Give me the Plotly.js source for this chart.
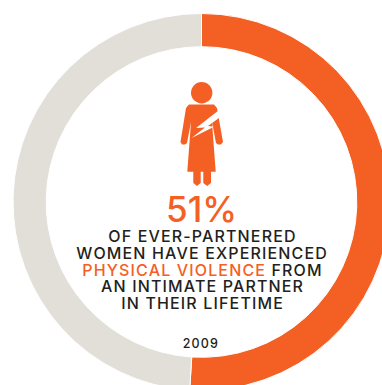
<!DOCTYPE html>
<html>
<head>
<meta charset="utf-8">
<script src="https://cdn.plot.ly/plotly-3.0.1.min.js"></script>
<style>
html,body{margin:0;padding:0;background:#fff;overflow:hidden;width:382px;height:385px}
.annotation text{letter-spacing:1.15px}
.annotation[data-index="5"] text{letter-spacing:0}
</style>
</head>
<body>
<div id="chart"></div>
<script>
const categories = ['Experienced physical violence', 'Did not'];
const shares = [51, 49];
const orange = '#F46024';
const sliceColors = [orange, '#E2DFD9'];
const headline = '51%';
const captionLines = [
  'OF EVER-PARTNERED',
  'WOMEN HAVE EXPERIENCED',
  '<span style="color:' + orange + '">PHYSICAL VIOLENCE</span> FROM',
  'AN INTIMATE PARTNER',
  'IN THEIR LIFETIME'
];
const captionY = [236, 252.7, 269.5, 286, 303];
const yearLabel = '2009';

// The canvas is larger than the window so the ring bleeds off the right and bottom.
const W = 402, H = 404;
const fx = x => (x / W).toFixed(5);
const fy = y => (1 - y / H).toFixed(5);
// Converts a list of pixel points to a closed path in paper coordinates.
const poly = pts => 'M' + pts.map(p => fx(p[0]) + ',' + fy(p[1])).join(' L') + ' Z';
const shape = (pts, color) => ({type: 'path', xref: 'paper', yref: 'paper', path: poly(pts), fillcolor: color, line: {color: color, width: 0}, layer: 'above'});
const disc = (cx, cy, r) => ({type: 'circle', xref: 'paper', yref: 'paper', x0: fx(cx - r), x1: fx(cx + r), y0: fy(cy + r), y1: fy(cy - r), fillcolor: orange, line: {width: 0}});

// Pictogram of a woman with a lightning bolt across the torso.
const figure = [
  disc(201.7, 92.7, 10.7),
  shape([[186,108],[189,104.5],[214,104.5],[217,108],[223,142],[221,144.5],[218,144.5],[216,143],[212,122],[215.7,171.7],[187.3,171.7],[191,122],[187,143],[185,144.5],[182,144.5],[180.5,142]], orange),
  shape([[193.3,171],[200.7,171],[200.7,183],[197,186],[193.3,183]], orange),
  shape([[203.3,171],[211,171],[211,183],[207.2,186],[203.3,183]], orange),
  shape([[218.5,110.5],[196,128],[205,127.5],[191.5,138],[214,126.8],[208,126],[221,116.5]], '#ffffff')
];

const centred = {xref: 'paper', yref: 'paper', showarrow: false, xanchor: 'center', yanchor: 'middle'};
const annotations = captionLines.map((t, i) => ({
  ...centred, text: t, x: fx(202.5), y: fy(captionY[i]),
  font: {family: 'Inter, sans-serif', size: 16, color: '#231F20', weight: 500}
}));
annotations.push({...centred, text: headline, x: fx(201.5), y: fy(209),
  font: {family: 'Inter, sans-serif', size: 35, color: orange, weight: 500}});
annotations.push({...centred, text: yearLabel, x: fx(201.5), y: fy(343),
  font: {family: 'Inter, sans-serif', size: 12.5, color: '#231F20', weight: 500}});

Plotly.newPlot('chart', [{
  type: 'pie',
  labels: categories,
  values: shares,
  sort: false,
  direction: 'clockwise',
  rotation: 0,
  hole: 0.824,
  textinfo: 'none',
  hoverinfo: 'none',
  marker: {colors: sliceColors, line: {color: '#ffffff', width: 1}},
  domain: {x: [13 / W, 390 / W], y: [1 - 390.5 / H, 1 - 13.5 / H]}
}], {
  width: W, height: H,
  margin: {l: 0, r: 0, t: 0, b: 0},
  showlegend: false,
  paper_bgcolor: '#ffffff',
  shapes: figure,
  annotations: annotations
}, {displayModeBar: false, staticPlot: true});
</script>
</body>
</html>
